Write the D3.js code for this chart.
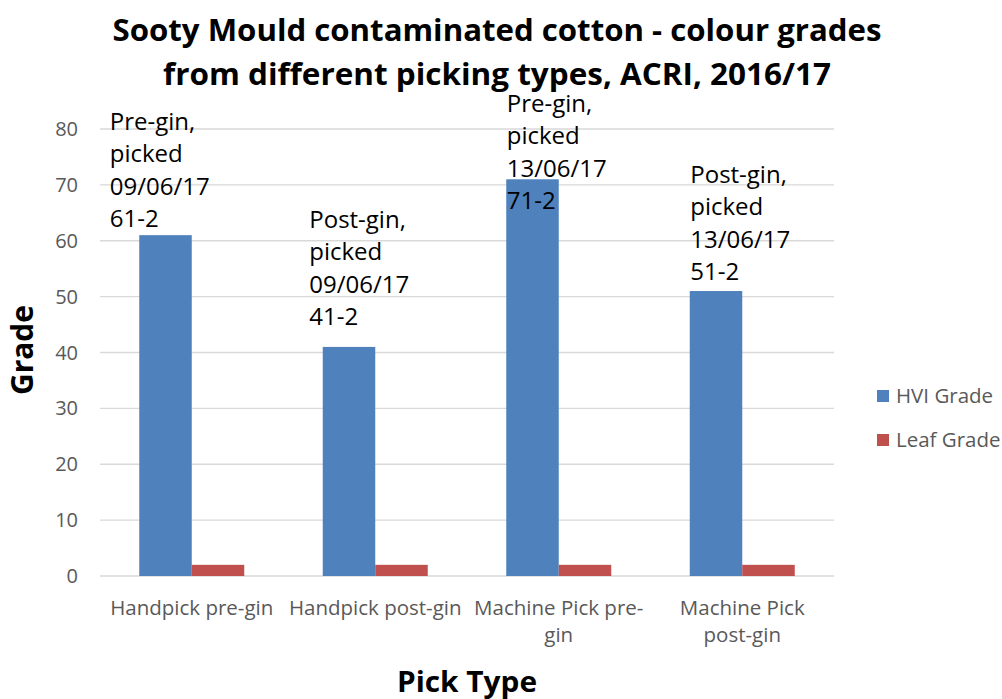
<!DOCTYPE html>
<html><head><meta charset="utf-8">
<script src="https://cdn.jsdelivr.net/npm/d3@7"></script>
<style>body{margin:0;background:#fff;} text{font-family:"Open Sans",Lato,sans-serif;}</style>
</head><body>
<svg id="c" width="1002" height="699"></svg>
<script>
const categories = [["Handpick pre-gin"],["Handpick post-gin"],["Machine Pick pre-","gin"],["Machine Pick","post-gin"]];
const seriesNames = ["HVI Grade","Leaf Grade"];
const hviGrade = [61,41,71,51];
const leafGrade = [2,2,2,2];
const yTicks = [0,10,20,30,40,50,60,70,80];
const annotations = [
  ["Pre-gin,","picked","09/06/17","61-2"],
  ["Post-gin,","picked","09/06/17","41-2"],
  ["Pre-gin,","picked","13/06/17","71-2"],
  ["Post-gin,","picked","13/06/17","51-2"]
];
// label anchor (value at baseline of last line) as placed in the original chart
const annotationAnchor = [62.4, 44.9, 65.6, 52.9];
const annotationShift = [-82, -66, -52, -52];
const colors = ["#4F81BD","#C0504D"];

const svg = d3.select("#c");
const m = {left:100, right:834, top:129, bottom:576};
const x = d3.scaleBand().domain(d3.range(categories.length)).range([m.left,m.right]).paddingInner(0).paddingOuter(0);
const y = d3.scaleLinear().domain([0,80]).range([m.bottom,m.top]);
const groupW = 105;
const xs = d3.scaleBand().domain(d3.range(2)).range([0,groupW]);

svg.append("g").selectAll("line").data(yTicks).join("line")
  .attr("x1",m.left).attr("x2",m.right).attr("y1",d=>y(d)).attr("y2",d=>y(d))
  .attr("stroke","#d9d9d9").attr("stroke-width",1.3);

svg.append("g").selectAll("text").data(yTicks).join("text")
  .attr("x",78).attr("y",d=>y(d)).attr("dy","0.35em").attr("text-anchor","end")
  .attr("font-size",20).attr("fill","#595959").text(d=>d);

const series = [hviGrade, leafGrade];
series.forEach((vals,si)=>{
  svg.append("g").selectAll("rect").data(vals).join("rect")
    .attr("x",(d,i)=>x(i)+x.bandwidth()/2-groupW/2+xs(si))
    .attr("width",xs.bandwidth())
    .attr("y",d=>y(d)).attr("height",d=>y(0)-y(d))
    .attr("fill",colors[si]);
});

const lineH = 32.5;
annotations.forEach((lines,i)=>{
  const xLeft = x(i)+x.bandwidth()/2 + annotationShift[i];
  const t = svg.append("text").attr("font-size",24).attr("fill","#000");
  const baseY = y(annotationAnchor[i]);
  lines.forEach((l,j)=>{
    t.append("tspan").attr("x",xLeft).attr("y",baseY-(lines.length-1-j)*lineH).text(l);
  });
});

categories.forEach((lines,i)=>{
  const t = svg.append("text").attr("text-anchor","middle").attr("font-size",20.5).attr("fill","#595959");
  lines.forEach((l,j)=>{
    t.append("tspan").attr("x",x(i)+x.bandwidth()/2).attr("y",615+j*26.5).text(l);
  });
});

svg.append("text").attr("x",497).attr("y",41).attr("text-anchor","middle").attr("font-size",30).attr("font-weight","bold")
  .attr("textLength",769).attr("lengthAdjust","spacingAndGlyphs").text("Sooty Mould contaminated cotton - colour grades");
svg.append("text").attr("x",497).attr("y",85).attr("text-anchor","middle").attr("font-size",30).attr("font-weight","bold")
  .attr("textLength",668).attr("lengthAdjust","spacingAndGlyphs").text("from different picking types, ACRI, 2016/17");
svg.append("text").attr("transform","translate(33,350) rotate(-90)").attr("text-anchor","middle")
  .attr("font-size",30).attr("font-weight","bold").attr("textLength",90).attr("lengthAdjust","spacingAndGlyphs").text("Grade");
svg.append("text").attr("x",467).attr("y",692).attr("text-anchor","middle")
  .attr("font-size",28).attr("font-weight","bold").attr("textLength",140).attr("lengthAdjust","spacingAndGlyphs").text("Pick Type");

seriesNames.forEach((n,i)=>{
  const ly = 396+i*44;
  svg.append("rect").attr("x",877).attr("y",ly-6).attr("width",12).attr("height",12).attr("fill",colors[i]);
  svg.append("text").attr("x",896).attr("y",ly).attr("dy","0.35em").attr("font-size",20.5).attr("fill","#595959").text(n);
});
</script>
</body></html>
